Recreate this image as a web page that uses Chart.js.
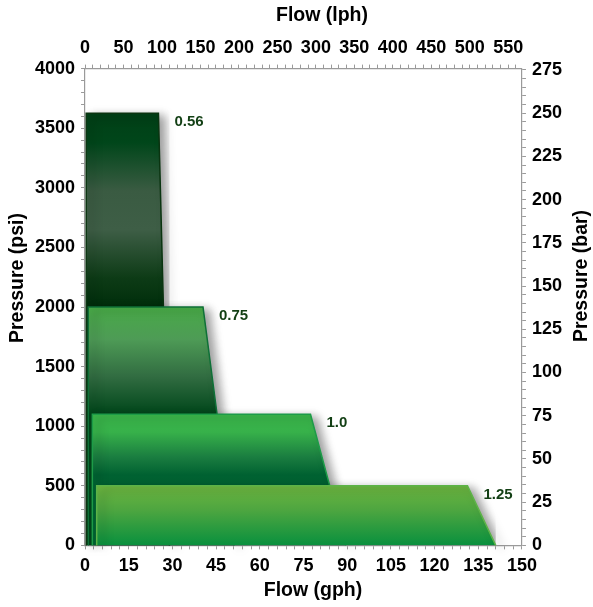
<!DOCTYPE html>
<html>
<head>
<meta charset="utf-8">
<script src="https://cdn.jsdelivr.net/npm/chart.js@4.4.1/dist/chart.umd.min.js"></script>
<style>
  html, body { margin: 0; padding: 0; background: #fff; }
  #wrap { width: 593px; height: 607px; position: relative; }
</style>
</head>
<body>
<div id="wrap"><canvas id="chart"></canvas></div>
<script>
// nozzle sizes, drawn back to front
const nozzles = ['0.56', '0.75', '1.0', '1.25'];

// each envelope: left edge flow, top-right flow, bottom-right flow (gph), top pressure (psi)
const leftFlow = [0.4, 1.1, 2.5, 4.0];
const topRightFlow = [25.2, 40.5, 77.4, 131.3];
const bottomRightFlow = [29.0, 51.2, 89.5, 141.0];
const topPressure = [3625, 2000, 1100, 500];

// gradient stops (top -> bottom of the visible band) and outline per nozzle
const fillStops = [
  [[0, '#003f16'], [0.15, '#00461a'], [0.4, '#3a5b42'], [0.6, '#3e5e46'], [0.85, '#0d3b16'], [1, '#002e0b']],
  [[0, '#48aa47'], [0.3, '#4e9b56'], [0.65, '#316c41'], [1, '#00461a']],
  [[0, '#3ab54a'], [0.25, '#37b14a'], [0.6, '#1a7d40'], [0.85, '#006131'], [1, '#006332']],
  [[0, '#6cb43f'], [0.4, '#4ea640'], [1, '#09903e']]
];
const outline = ['#0a3410', '#0e7037', '#1d9b48', '#5db347'];

// axis tick values
const gphMax = 150, gphStep = 15;
const lphLabelStep = 50;
const psiMax = 4000, psiStep = 500;
const barLabelStep = 25;

const GPH_TO_LPH = 3.78541;
const PSI_PER_BAR = 14.5038;

const FAMILY = 'Arial, "Liberation Sans", sans-serif';
const tickFont = { family: FAMILY, size: 18, weight: 'bold' };
const axisGray = '#9a9a9a';

function onStep(v, step) {
  const r = v / step;
  return Math.abs(r - Math.round(r)) < 1e-6;
}

function makeAxis(pos, min, max, minor, major) {
  return {
    type: 'linear',
    position: pos,
    min: min,
    max: max,
    border: { color: axisGray, width: 1.2 },
    grid: { drawOnChartArea: false, drawTicks: true, tickLength: 4, color: axisGray },
    ticks: {
      stepSize: minor,
      autoSkip: false,
      includeBounds: false,
      maxRotation: 0,
      color: '#000',
      font: tickFont,
      padding: 6,
      callback: v => onStep(v, major) ? Math.round(v) : ''
    }
  };
}

const datasets = nozzles.map((name, i) => ({
  label: name,
  data: [
    { x: leftFlow[i], y: 0 },
    { x: leftFlow[i], y: topPressure[i] },
    { x: topRightFlow[i], y: topPressure[i] },
    { x: bottomRightFlow[i], y: 0 }
  ],
  xAxisID: 'x',
  yAxisID: 'y',
  order: nozzles.length - i,
  fill: 'origin',
  tension: 0,
  clip: false,
  pointRadius: 0,
  borderWidth: 1.5,
  borderColor: outline[i],
  backgroundColor: ctx => {
    const chart = ctx.chart;
    if (!chart.chartArea) return outline[i];
    const y = chart.scales.y;
    // gradient runs over the part not covered by the next envelope
    const lower = i + 1 < topPressure.length ? topPressure[i + 1] : 0;
    const g = chart.ctx.createLinearGradient(0, y.getPixelForValue(topPressure[i]), 0, y.getPixelForValue(lower));
    fillStops[i].forEach(s => g.addColorStop(s[0], s[1]));
    return g;
  }
}));

// axis titles drawn by hand so the right one reads bottom-to-top like the left
const titles = [
  { text: 'Flow (lph)', x: 322, y: 21, rot: 0 },
  { text: 'Flow (gph)', x: 313, y: 596, rot: 0 },
  { text: 'Pressure (psi)', x: 23, y: 278, rot: -Math.PI / 2 },
  { text: 'Pressure (bar)', x: 587, y: 276, rot: -Math.PI / 2 }
];

const decorations = {
  id: 'decorations',
  beforeDatasetsDraw(chart) {
    const c = chart.ctx;
    c.save();
    c.shadowColor = 'rgba(0,0,0,0.38)';
    c.shadowBlur = 10;
    c.shadowOffsetX = 6;
    c.shadowOffsetY = 3;
  },
  afterDatasetsDraw(chart) {
    const c = chart.ctx;
    c.restore();
    c.save();
    c.fillStyle = '#123f14';
    c.font = 'bold 15px ' + FAMILY;
    c.textAlign = 'left';
    c.textBaseline = 'middle';
    nozzles.forEach((name, i) => {
      const px = chart.scales.x.getPixelForValue(topRightFlow[i]);
      const py = chart.scales.y.getPixelForValue(topPressure[i]);
      c.fillText(name, px + 16, py + 9);
    });
    c.restore();
  },
  afterDraw(chart) {
    const c = chart.ctx;
    c.save();
    c.fillStyle = '#000';
    c.font = 'bold 19.5px ' + FAMILY;
    c.textAlign = 'center';
    c.textBaseline = 'alphabetic';
    titles.forEach(t => {
      c.save();
      c.translate(t.x, t.y);
      c.rotate(t.rot);
      c.fillText(t.text, 0, 0);
      c.restore();
    });
    c.restore();
  }
};

new Chart(document.getElementById('chart'), {
  type: 'line',
  data: { datasets: datasets },
  options: {
    responsive: true,
    maintainAspectRatio: false,
    animation: false,
    layout: { padding: { left: 29, right: 25, top: 31, bottom: 24 } },
    plugins: { legend: { display: false }, tooltip: { enabled: false } },
    scales: {
      x: makeAxis('bottom', 0, gphMax, 3, gphStep),
      x2: makeAxis('top', 0, gphMax * GPH_TO_LPH, 10, lphLabelStep),
      y: makeAxis('left', 0, psiMax, 100, psiStep),
      y2: makeAxis('right', 0, psiMax / PSI_PER_BAR, 5, barLabelStep)
    }
  },
  plugins: [decorations]
});
</script>
</body>
</html>
